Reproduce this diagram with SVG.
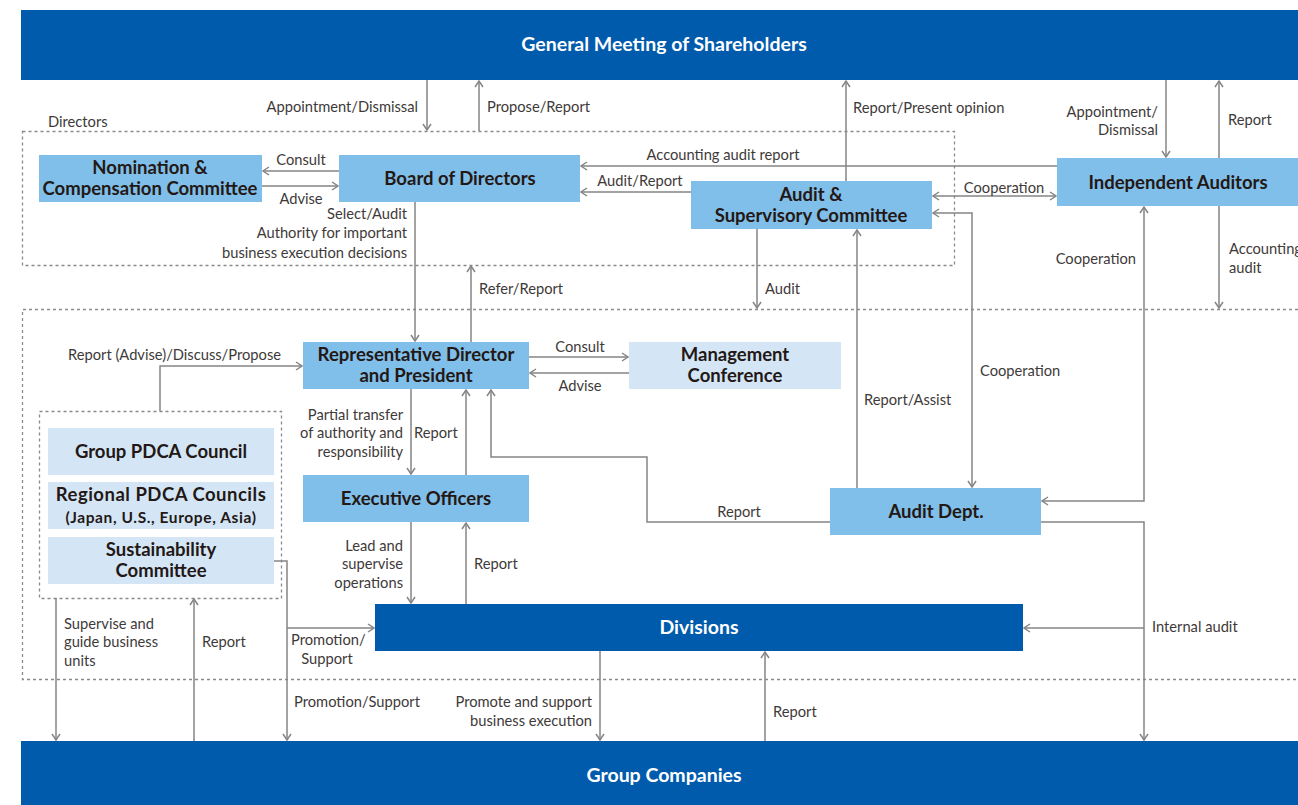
<svg xmlns="http://www.w3.org/2000/svg" width="1298" height="805" viewBox="0 0 1298 805">
  <style>
    .dark { fill: #005BAC; }
    .mid { fill: #80BFE9; }
    .light { fill: #D4E6F6; }
    .ttl { font-family: Lato, "Open Sans", sans-serif; font-weight: 700; font-size: 19.5px; fill: #FFFFFF; text-anchor: middle; }
    .nt { font-family: Lato, "Open Sans", sans-serif; font-weight: 700; font-size: 18.5px; fill: #231815; text-anchor: middle; }
    .nts { font-family: Lato, "Open Sans", sans-serif; font-weight: 700; font-size: 15.5px; letter-spacing: 0.6px; fill: #231815; text-anchor: middle; }
    .lb { font-family: Lato, "Open Sans", sans-serif; font-weight: 400; font-size: 14.7px; fill: #3E3A39; }
    .end { text-anchor: end; }
    .mida { text-anchor: middle; }
    .ln { fill: none; stroke: #858585; stroke-width: 1.5; }
    .dash { fill: none; stroke: #8A8A8A; stroke-width: 1.3; stroke-dasharray: 3 3; }
  </style>
  <defs>
    <marker id="arr" viewBox="0 0 10 10" refX="9" refY="5" markerWidth="10" markerHeight="10" markerUnits="userSpaceOnUse" orient="auto-start-reverse">
      <path d="M3,1 L9,5 L3,9" fill="none" stroke="#858585" stroke-width="1.5"/>
    </marker>
  </defs>
  <rect width="1298" height="805" fill="#FFFFFF"/>

  <!-- dashed groupings -->
  <g id="frames">
    <rect class="dash" x="22.5" y="131.5" width="932" height="134"/>
    <text class="lb" x="48" y="127">Directors</text>
    <path class="dash" d="M1298,309.5 H22.5 V679.5 H1298"/>
    <rect class="dash" x="39.5" y="411.5" width="242" height="187"/>
  </g>

  <!-- connectors -->
  <g id="connectors">
    <path class="ln" d="M427,80 V130" marker-end="url(#arr)"/>
    <path class="ln" d="M479,131 V81" marker-end="url(#arr)"/>
    <path class="ln" d="M846,181 V81" marker-end="url(#arr)"/>
    <path class="ln" d="M1166,80 V157" marker-end="url(#arr)"/>
    <path class="ln" d="M1219,158 V81" marker-end="url(#arr)"/>
    <path class="ln" d="M1057,166 H581" marker-end="url(#arr)"/>
    <path class="ln" d="M691,192 H581" marker-end="url(#arr)"/>
    <path class="ln" d="M339,171 H263" marker-end="url(#arr)"/>
    <path class="ln" d="M262,186 H338" marker-end="url(#arr)"/>
    <path class="ln" d="M415,202 V341" marker-end="url(#arr)"/>
    <path class="ln" d="M471,342 V266" marker-end="url(#arr)"/>
    <path class="ln" d="M757,229 V308" marker-end="url(#arr)"/>
    <path class="ln" d="M857,488 V230" marker-end="url(#arr)"/>
    <path class="ln" d="M933,196 H1056" marker-start="url(#arr)" marker-end="url(#arr)"/>
    <path class="ln" d="M933,213 H972 V487" marker-start="url(#arr)" marker-end="url(#arr)"/>
    <path class="ln" d="M1144,207 V501 H1042" marker-start="url(#arr)" marker-end="url(#arr)"/>
    <path class="ln" d="M1219,206 V308" marker-end="url(#arr)"/>
    <path class="ln" d="M1041,522 H1144 V740" marker-end="url(#arr)"/>
    <path class="ln" d="M1144,628 H1024" marker-end="url(#arr)"/>
    <path class="ln" d="M830,522 H647 V457 H491 V390" marker-end="url(#arr)"/>
    <path class="ln" d="M529,357 H628" marker-end="url(#arr)"/>
    <path class="ln" d="M629,373 H530" marker-end="url(#arr)"/>
    <path class="ln" d="M160,411 V366 H302" marker-end="url(#arr)"/>
    <path class="ln" d="M411,389 V474" marker-end="url(#arr)"/>
    <path class="ln" d="M466,475 V390" marker-end="url(#arr)"/>
    <path class="ln" d="M411,522 V603" marker-end="url(#arr)"/>
    <path class="ln" d="M466,604 V523" marker-end="url(#arr)"/>
    <path class="ln" d="M274,561 H287 V740" marker-end="url(#arr)"/>
    <path class="ln" d="M287,628 H374" marker-end="url(#arr)"/>
    <path class="ln" d="M56,598 V740" marker-end="url(#arr)"/>
    <path class="ln" d="M194,741 V599" marker-end="url(#arr)"/>
    <path class="ln" d="M600,651 V740" marker-end="url(#arr)"/>
    <path class="ln" d="M765,741 V652" marker-end="url(#arr)"/>

    <text class="lb end" x="418" y="112">Appointment/Dismissal</text>
    <text class="lb" x="487" y="112">Propose/Report</text>
    <text class="lb" x="853" y="113">Report/Present opinion</text>
    <text class="lb end" x="1158" y="117">Appointment/</text>
    <text class="lb end" x="1158" y="135">Dismissal</text>
    <text class="lb" x="1228" y="125">Report</text>
    <text class="lb mida" x="723" y="160">Accounting audit report</text>
    <text class="lb mida" x="301" y="165">Consult</text>
    <text class="lb mida" x="301" y="204">Advise</text>
    <text class="lb mida" x="640" y="186">Audit/Report</text>
    <text class="lb mida" x="1004" y="193">Cooperation</text>
    <text class="lb end" x="407" y="219">Select/Audit</text>
    <text class="lb end" x="407" y="238">Authority for important</text>
    <text class="lb end" x="407" y="258">business execution decisions</text>
    <text class="lb" x="479" y="294">Refer/Report</text>
    <text class="lb" x="765" y="294">Audit</text>
    <text class="lb end" x="1136" y="264">Cooperation</text>
    <text class="lb" x="1229" y="254">Accounting</text>
    <text class="lb" x="1229" y="273">audit</text>
    <text class="lb end" x="281" y="360">Report (Advise)/Discuss/Propose</text>
    <text class="lb mida" x="580" y="352">Consult</text>
    <text class="lb mida" x="580" y="391">Advise</text>
    <text class="lb" x="980" y="376">Cooperation</text>
    <text class="lb" x="864" y="405">Report/Assist</text>
    <text class="lb end" x="403" y="420">Partial transfer</text>
    <text class="lb end" x="403" y="438">of authority and</text>
    <text class="lb end" x="403" y="457">responsibility</text>
    <text class="lb" x="414" y="438">Report</text>
    <text class="lb mida" x="739" y="517">Report</text>
    <text class="lb end" x="403" y="551">Lead and</text>
    <text class="lb end" x="403" y="569">supervise</text>
    <text class="lb end" x="403" y="588">operations</text>
    <text class="lb" x="474" y="569">Report</text>
    <text class="lb" x="64" y="629">Supervise and</text>
    <text class="lb" x="64" y="647">guide business</text>
    <text class="lb" x="64" y="666">units</text>
    <text class="lb" x="202" y="647">Report</text>
    <text class="lb" x="291" y="645">Promotion/</text>
    <text class="lb mida" x="327" y="664">Support</text>
    <text class="lb" x="294" y="707">Promotion/Support</text>
    <text class="lb end" x="592" y="707">Promote and support</text>
    <text class="lb end" x="592" y="726">business execution</text>
    <text class="lb" x="773" y="717">Report</text>
    <text class="lb" x="1152" y="632">Internal audit</text>
  </g>

  <!-- nodes -->
  <g id="general-meeting">
    <rect class="dark" x="21" y="10" width="1277" height="70"/>
    <text class="ttl" x="664" y="51">General Meeting of Shareholders</text>
  </g>
  <g id="nomination-committee">
    <rect class="mid" x="39" y="155" width="223" height="47"/>
    <text class="nt" x="150" y="174">Nomination &amp;</text>
    <text class="nt" x="150" y="195">Compensation Committee</text>
  </g>
  <g id="board">
    <rect class="mid" x="339" y="155" width="241" height="47"/>
    <text class="nt" x="460" y="185">Board of Directors</text>
  </g>
  <g id="audit-supervisory">
    <rect class="mid" x="691" y="181" width="241" height="48"/>
    <text class="nt" x="811" y="201">Audit &amp;</text>
    <text class="nt" x="811" y="222">Supervisory Committee</text>
  </g>
  <g id="independent-auditors">
    <rect class="mid" x="1057" y="158" width="241" height="48"/>
    <text class="nt" x="1178" y="189">Independent Auditors</text>
  </g>
  <g id="president">
    <rect class="mid" x="303" y="342" width="226" height="47"/>
    <text class="nt" x="416" y="361">Representative Director</text>
    <text class="nt" x="416" y="382">and President</text>
  </g>
  <g id="management-conference">
    <rect class="light" x="629" y="342" width="212" height="47"/>
    <text class="nt" x="735" y="361">Management</text>
    <text class="nt" x="735" y="382">Conference</text>
  </g>
  <g id="executive-officers">
    <rect class="mid" x="303" y="475" width="226" height="47"/>
    <text class="nt" x="416" y="505">Executive Officers</text>
  </g>
  <g id="audit-dept">
    <rect class="mid" x="830" y="488" width="211" height="47"/>
    <text class="nt" x="936" y="518">Audit Dept.</text>
  </g>
  <g id="group-pdca">
    <rect class="light" x="48" y="428" width="226" height="47"/>
    <text class="nt" x="161" y="458">Group PDCA Council</text>
  </g>
  <g id="regional-pdca">
    <rect class="light" x="48" y="482" width="226" height="47"/>
    <text class="nt" x="161" y="501" letter-spacing="0.5">Regional PDCA Councils</text>
    <text class="nts" x="161" y="523">(Japan, U.S., Europe, Asia)</text>
  </g>
  <g id="sustainability">
    <rect class="light" x="48" y="537" width="226" height="47"/>
    <text class="nt" x="161" y="556">Sustainability</text>
    <text class="nt" x="161" y="577">Committee</text>
  </g>
  <g id="divisions">
    <rect class="dark" x="375" y="604" width="648" height="47"/>
    <text class="ttl" x="699" y="634">Divisions</text>
  </g>
  <g id="group-companies">
    <rect class="dark" x="21" y="741" width="1277" height="64"/>
    <text class="ttl" x="664" y="782">Group Companies</text>
  </g>
</svg>
